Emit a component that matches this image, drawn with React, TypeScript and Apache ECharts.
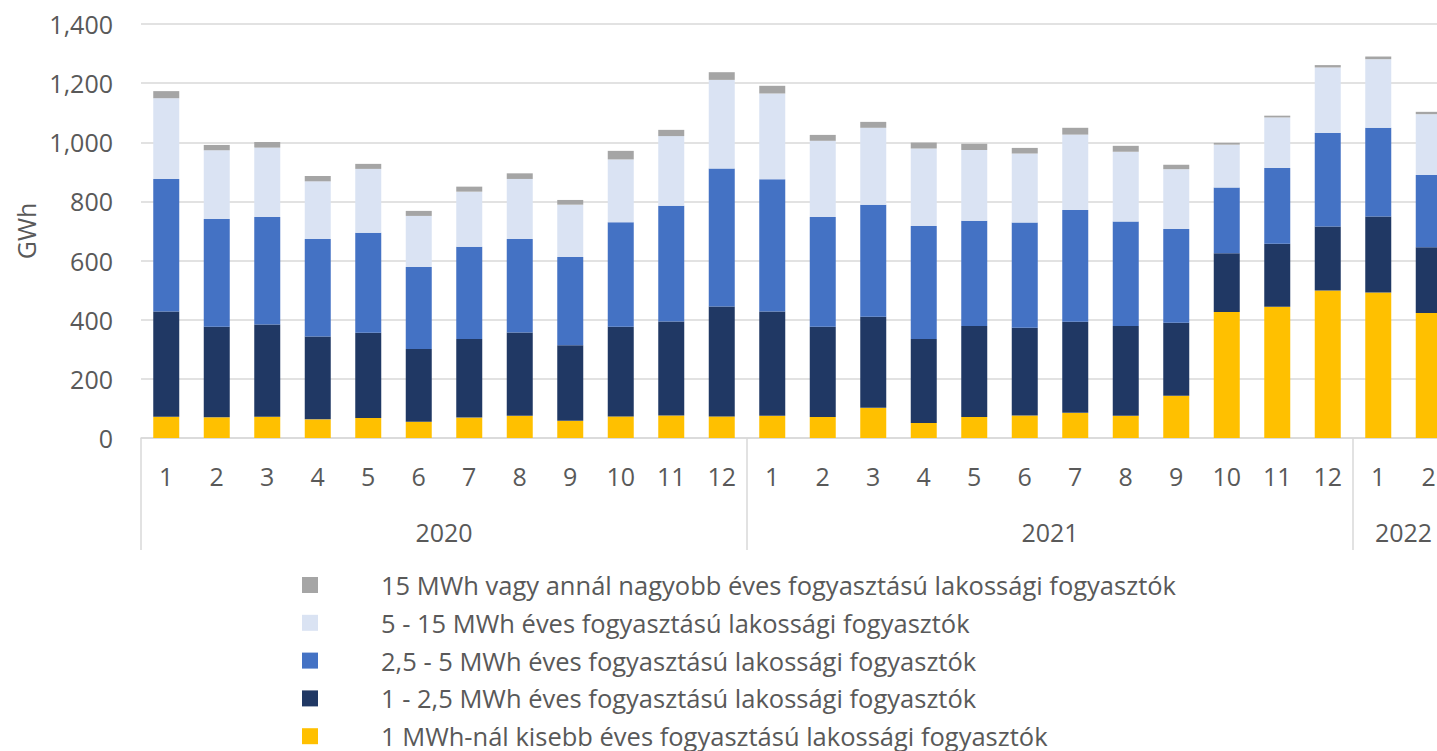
import React, { useEffect, useRef } from "react";
import * as echarts from "echarts";

const months = ["1","2","3","4","5","6","7","8","9","10","11","12","1","2","3","4","5","6","7","8","9","10","11","12","1","2"];
const years = ["2020","2020","2020","2020","2020","2020","2020","2020","2020","2020","2020","2020","2021","2021","2021","2021","2021","2021","2021","2021","2021","2021","2021","2021","2022","2022"];
const yTicks = [0, 200, 400, 600, 800, 1000, 1200, 1400];

const seriesNames = [
  "1 MWh-nál kisebb éves fogyasztású lakossági fogyasztók",
  "1 - 2,5 MWh éves fogyasztású lakossági fogyasztók",
  "2,5 - 5 MWh éves fogyasztású lakossági fogyasztók",
  "5 - 15 MWh éves fogyasztású lakossági fogyasztók",
  "15 MWh vagy annál nagyobb éves fogyasztású lakossági fogyasztók",
];
const under1 = [72,70,72,63,68,55,69,75,58,73,76,73, 75,71,102,51,71,76,85,75,143,426,444,499, 492,423];
const from1to25 = [356,306,312,280,288,246,266,282,256,303,318,372, 353,305,308,284,308,297,308,304,247,199,213,216, 257,222];
const from25to5 = [448,365,363,330,338,277,312,316,298,354,391,466, 447,371,379,382,356,356,378,353,317,222,256,316, 300,244];
const from5to15 = [273,232,235,195,216,173,186,203,177,212,236,300, 290,258,260,262,239,233,255,236,202,145,171,222, 232,206];
const over15 = [24,18,19,18,17,17,17,19,16,29,21,26, 26,20,20,20,21,19,23,20,15,6,6,8, 9,8];

const colors = ["#FFC000", "#203864", "#4472C4", "#DAE3F3", "#A5A5A5"];
const FONT = "Open Sans";
const TXT = "#595959";

export default function App() {
  const ref = useRef<HTMLDivElement>(null);
  useEffect(() => {
    if (!ref.current) return;
    const chart = echarts.init(ref.current, null, { renderer: "svg" });
    const values = [under1, from1to25, from25to5, from5to15, over15];

    const boundaries: number[] = [];
    const labelIdx: number[] = [];
    let start = 0;
    for (let i = 1; i <= years.length; i++) {
      if (i === years.length || years[i] !== years[start]) {
        boundaries.push(start);
        labelIdx.push(start + Math.floor((i - start) / 2));
        start = i;
      }
    }

    chart.setOption({
      animation: false,
      grid: { left: 141, top: 24, width: 1313, height: 414, containLabel: false },
      legend: {
        orient: "vertical",
        left: 302,
        top: 572,
        height: 200,
        padding: 0,
        itemWidth: 16,
        itemHeight: 16,
        itemGap: 11.8,
        icon: "rect",
        data: seriesNames.slice().reverse(),
        textStyle: { fontFamily: FONT, fontSize: 25.5, color: TXT, padding: [0, 0, 0, 58] },
      },
      xAxis: [
        {
          type: "category",
          data: months,
          position: "bottom",
          axisLine: { lineStyle: { color: "#D9D9D9", width: 1.5 } },
          axisTick: { show: false },
          axisLabel: { interval: 0, margin: 25.5, fontFamily: FONT, fontSize: 25, color: TXT },
        },
        {
          type: "category",
          data: years,
          position: "bottom",
          axisLine: { show: false },
          axisTick: {
            show: true,
            length: 112,
            interval: (i: number) => boundaries.indexOf(i) >= 0,
            lineStyle: { color: "#D9D9D9", width: 1.5 },
          },
          axisLabel: {
            interval: (i: number) => labelIdx.indexOf(i) >= 0,
            margin: 81.5,
            padding: [0, 50.5, 0, 0],
            fontFamily: FONT,
            fontSize: 25,
            color: TXT,
          },
        },
      ],
      yAxis: {
        type: "value",
        min: 0,
        max: 1400,
        interval: 200,
        name: "GWh",
        nameLocation: "middle",
        nameGap: 102,
        nameTextStyle: { fontFamily: FONT, fontSize: 25, color: TXT },
        axisLine: { show: false },
        axisTick: { show: false },
        splitLine: { lineStyle: { color: "#D9D9D9", width: 1.5 } },
        axisLabel: {
          margin: 28,
          fontFamily: FONT,
          fontSize: 25,
          color: TXT,
          formatter: (v: number) => (yTicks.indexOf(v) >= 0 ? v.toLocaleString("en-US") : ""),
        },
      },
      series: seriesNames.map((name, k) => ({
        name,
        type: "bar",
        stack: "total",
        xAxisIndex: 0,
        barWidth: 26,
        itemStyle: { color: colors[k] },
        data: values[k],
      })),
    });
    return () => chart.dispose();
  }, []);
  return <div ref={ref} style={{ position: "fixed", left: 0, top: 0, width: 1470, height: 751, background: "#fff" }} />;
}
